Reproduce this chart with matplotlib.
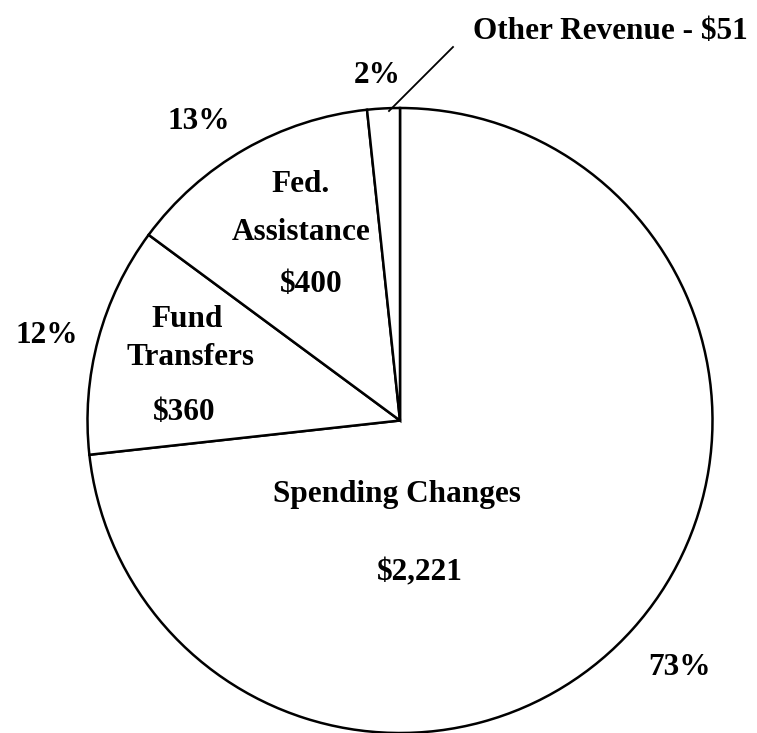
import numpy as np
import matplotlib.pyplot as plt

# budget gap closing sources ($ millions)
fuentes = ['Spending Changes', 'Fund Transfers', 'Fed. Assistance', 'Other Revenue']
valores = [2221, 360, 400, 51]
etiquetas = ['Spending Changes\n\n$2,221', 'Fund\nTransfers\n\n$360', 'Fed.\nAssistance\n\n$400',
             'Other Revenue - $51']

W, H = 757, 733
cx, cy, r = 400, 420.5, 312.5   # pie center and radius in pixels


def px(x, y):
    # pixel position of the picture -> data coords of the pie
    return (x - cx) / r, (cy - y) / r


plt.rcParams['font.family'] = ['Liberation Serif', 'DejaVu Serif']
plt.rcParams['font.weight'] = 'bold'

fig = plt.figure(figsize=(W / 100, H / 100), dpi=100)
ax = fig.add_axes([0, 0, 1, 1])

wedges, _ = ax.pie(valores, startangle=90, counterclock=False, radius=1,
                   colors=['white'] * 4,
                   wedgeprops=dict(edgecolor='black', linewidth=1.8))

ax.set_xlim(-cx / r, (W - cx) / r)
ax.set_ylim(-(H - cy) / r, cy / r)
ax.set_aspect('auto')
ax.axis('off')

fs = 22.5
pct = [round(v / sum(valores) * 100) for v in valores]

# percentages outside
pos_pct = [(679, 675), (47, 343), (199, 129), (377, 83)]
for p, (x, y) in zip(pct, pos_pct):
    ax.text(*px(x, y), f'{p}%', ha='center', va='baseline', fontsize=fs, fontweight='bold')

# labels inside the slices (each line separately)
lineas = [
    ('Spending Changes', 397, 502), ('$2,221', 420, 580),
    ('Fund', 187, 327), ('Transfers', 190, 365), ('$360', 184, 420),
    ('Fed.', 301, 192), ('Assistance', 301, 240), ('$400', 311, 292),
]
for t, x, y in lineas:
    ax.text(*px(x, y), t, ha='center', va='baseline', fontsize=fs, fontweight='bold')

# small slice label with leader line
ax.text(*px(610, 39), etiquetas[3], ha='center', va='baseline', fontsize=fs, fontweight='bold')
x0, y0 = px(389, 111)
x1, y1 = px(453, 47)
ax.plot([x0, x1], [y0, y1], color='black', lw=1.3)

fig.savefig('out.png', dpi=100)
